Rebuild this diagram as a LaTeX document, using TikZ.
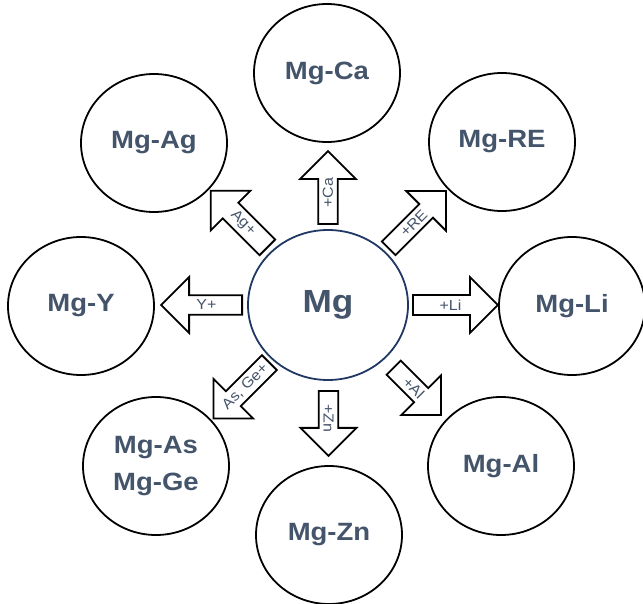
\documentclass[tikz,border=0pt]{standalone}
\usepackage{fontspec}
\setmainfont{Liberation Sans}
\usetikzlibrary{shapes.geometric,shapes.arrows}
\definecolor{labelslate}{HTML}{44546A}
\definecolor{coreblue}{HTML}{1F3864}
\newcommand\widetext[1]{\scalebox{1.1}[1]{#1}}

\begin{document}
\begin{tikzpicture}[x=1pt,y=-1pt,
  alloy/.style={ellipse, draw=black, line width=1.8pt, fill=white,
    minimum width=146pt, minimum height=138pt, inner sep=0pt,
    text=labelslate, align=center,
    font=\bfseries\fontsize{25}{37}\selectfont},
  core/.style={ellipse, draw=coreblue, line width=1.8pt, fill=white,
    minimum width=160pt, minimum height=150pt, inner sep=0pt,
    text=labelslate, font=\bfseries\fontsize{32}{36}\selectfont},
  blockarrow/.style={single arrow, draw=black, line width=1.8pt, fill=white,
    minimum width=56pt, single arrow head extend=13pt,
    single arrow tip angle=90, inner sep=1pt, anchor=tail,
    text=labelslate, font=\fontsize{14.5}{15}\selectfont}]

\useasboundingbox (0,0) rectangle (643,604);

% central element
\node[core] (mg) at (328,305) {\widetext{Mg}};

% binary alloy systems around it
\node[alloy] (ca)   at (327,73)  {\widetext{Mg-Ca}};
\node[alloy] (ag)   at (154,143) {\widetext{Mg-Ag}};
\node[alloy] (re)   at (502,142) {\widetext{Mg-RE}};
\node[alloy] (y)    at (81,306)  {\widetext{Mg-Y}};
\node[alloy] (li)   at (572,306) {\widetext{Mg-Li}};
\node[alloy] (asge) at (156,466) {\widetext{Mg-As}\\\widetext{Mg-Ge}};
\node[alloy] (al)   at (501,466) {\widetext{Mg-Al}};
\node[alloy] (zn)   at (329,535) {\widetext{Mg-Zn}};

% block arrows for each alloying addition
\node[blockarrow, minimum height=73pt, rotate=90] (addca) at (328,225) {\widetext{+Ca}};
\node[blockarrow, minimum height=81pt, shape border rotate=180] (addy) at (243,305) {\widetext{Y+}};
\node[blockarrow, minimum height=85pt] (addli) at (412,305) {\widetext{+Li}};
\node[blockarrow, minimum height=65pt, rotate=-90] (addzn) at (328.5,390) {\widetext{+Zn}};
\node[blockarrow, minimum height=80pt, rotate=-45, shape border rotate=180] (addag) at (268,248) {\widetext{Ag+}};
\node[blockarrow, minimum height=81pt, rotate=45] (addre) at (388,249) {\widetext{+RE}};
\node[blockarrow, minimum height=79pt, rotate=45, shape border rotate=180] (addasge) at (270,362) {\widetext{As, Ge+}};
\node[blockarrow, minimum height=67pt, rotate=-45] (addal) at (393,367) {\widetext{+Al}};
\end{tikzpicture}
\end{document}
